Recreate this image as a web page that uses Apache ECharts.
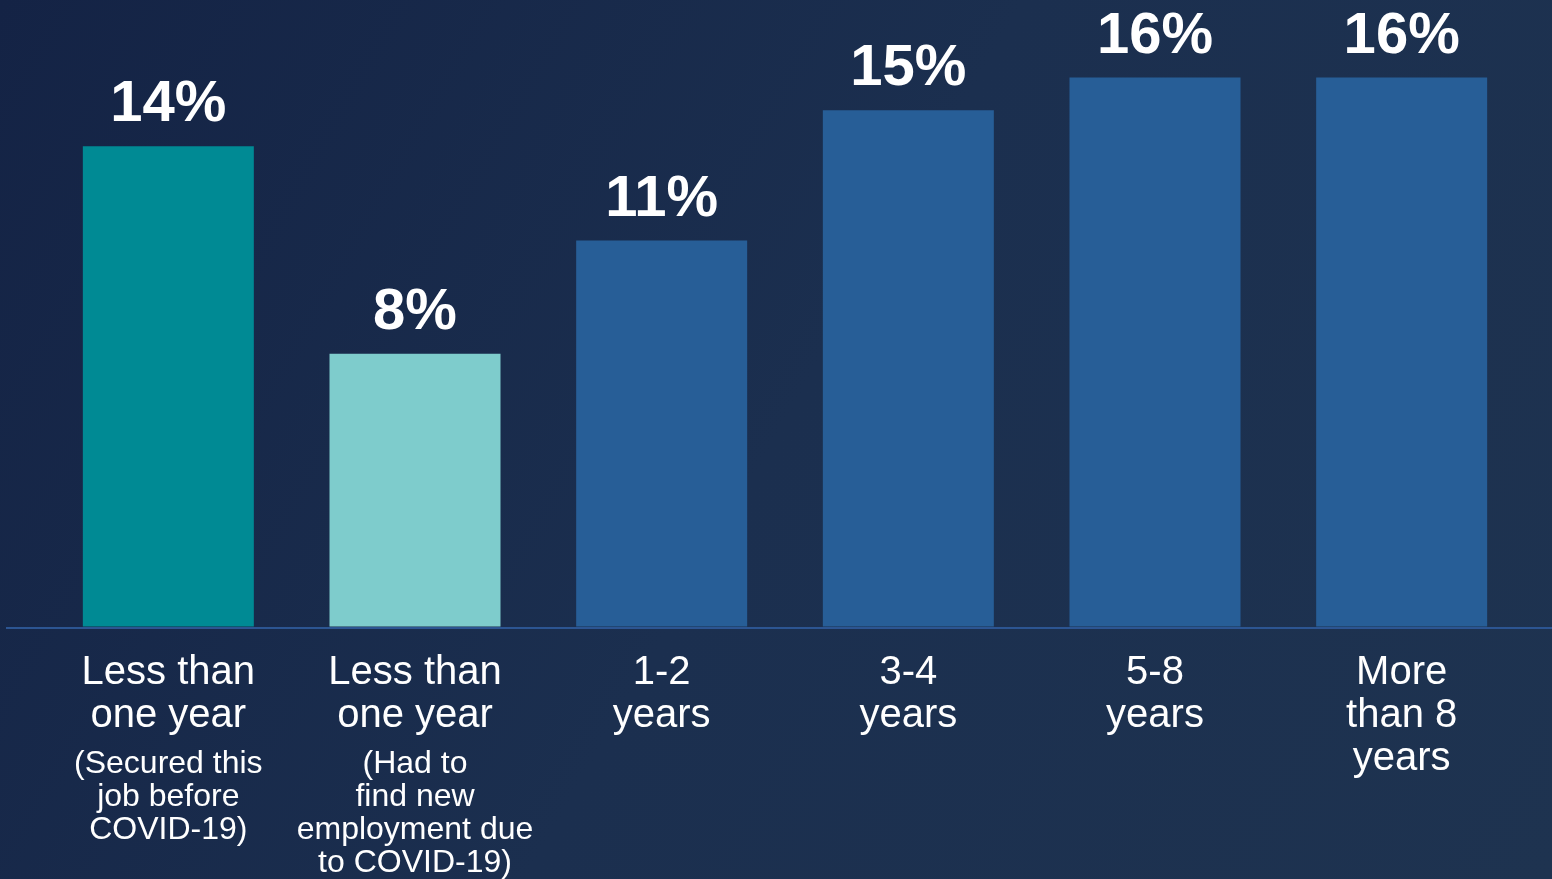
<!DOCTYPE html>
<html>
<head>
<meta charset="utf-8">
<script src="https://cdn.jsdelivr.net/npm/echarts@6/dist/echarts.min.js"></script>
<style>
html,body{margin:0;padding:0;background:#172747;}
#main{width:1552px;height:879px;}
</style>
</head>
<body>
<div id="main"></div>
<script>
// Data
const categoryMain = ['Less than\none year', 'Less than\none year', '1-2\nyears', '3-4\nyears', '5-8\nyears', 'More\nthan 8\nyears'];
const categoryNote = ['(Secured this\njob before\nCOVID-19)', '(Had to\nfind new\nemployment due\nto COVID-19)', '', '', '', ''];
const shareValues = [14, 7.95, 11.25, 15.05, 16, 16];
const barColors = ['#008a94', '#7ecccc', '#275e97', '#275e97', '#275e97', '#275e97'];

const categories = categoryMain.map((m, i) => m + (categoryNote[i] ? '\n' + categoryNote[i] : ''));

const FONT = '"Liberation Sans", Arial, Helvetica, sans-serif';
const gridBottom = 251;

const chart = echarts.init(document.getElementById('main'));
chart.setOption({
  backgroundColor: {
    type: 'linear', x: 0, y: 0, x2: 1, y2: 1,
    colorStops: [
      { offset: 0, color: '#142345' },
      { offset: 0.5, color: '#1b2f4f' },
      { offset: 1, color: '#1e3350' }
    ]
  },
  animation: false,
  grid: { left: 45, right: 27, top: 9, bottom: gridBottom },
  xAxis: {
    type: 'category',
    data: categories,
    axisLine: { show: false },
    axisTick: { show: false },
    axisLabel: {
      interval: 0,
      margin: 25,
      formatter: function (value, index) {
        const main = categoryMain[index].split('\n').map(l => '{a|' + l + '}').join('\n');
        const note = categoryNote[index];
        if (!note) return main;
        return main + '\n{sp| }\n' + note.split('\n').map(l => '{b|' + l + '}').join('\n');
      },
      rich: {
        a: { fontSize: 40, lineHeight: 43, color: '#ffffff', fontFamily: FONT, align: 'center' },
        b: { fontSize: 32, lineHeight: 33, color: '#ffffff', fontFamily: FONT, align: 'center' },
        sp: { fontSize: 1, lineHeight: 10 }
      }
    }
  },
  yAxis: {
    type: 'value', min: 0, max: 18, show: false,
    splitLine: { show: false }
  },
  series: [{
    type: 'bar',
    barWidth: 171,
    data: shareValues.map((v, i) => ({ value: v, itemStyle: { color: barColors[i] } })),
    label: {
      show: true,
      position: 'top',
      distance: 12,
      color: '#ffffff',
      fontSize: 58,
      fontWeight: 'bold',
      fontFamily: FONT,
      formatter: p => Math.round(p.value) + '%'
    }
  }],
  graphic: [{
    type: 'line',
    z: 100,
    shape: { x1: 6, y1: 879 - gridBottom, x2: 1552, y2: 879 - gridBottom },
    style: { stroke: '#2c5592', lineWidth: 2 }
  }]
});
</script>
</body>
</html>
